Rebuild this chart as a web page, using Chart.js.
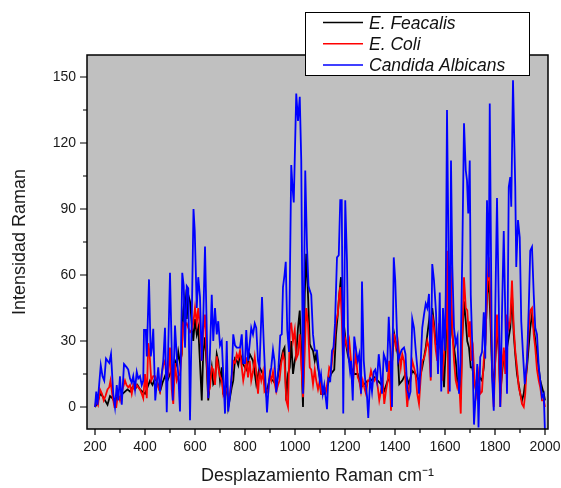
<!DOCTYPE html>
<html>
<head>
<meta charset="utf-8">
<script src="https://cdn.jsdelivr.net/npm/chart.js@4/dist/chart.umd.min.js"></script>
<style>
html,body{margin:0;padding:0;background:#fff;}
#wrap{position:relative;width:561px;height:488px;}
canvas{display:block;}
</style>
</head>
<body>
<div id="wrap"><canvas id="c" width="561" height="488"></canvas></div>
<script>
// ---- Data ----
const seriesNames = ['E. Feacalis', 'E. Coli', 'Candida Albicans'];
const seriesColors = ['#000000', '#ff0000', '#0000ff'];

const feacalisX = [200,210,220,230,240,250,260,270,280,290,
  300,310,320,330,340,350,360,370,380,390,
  400,410,420,430,440,450,460,470,480,490,
  500,510,520,527,533,540,547,553,560,567,
  573,580,587,593,600,607,613,620,627,633,
  640,647,653,660,667,673,680,687,693,700,
  707,713,720,727,733,740,747,753,760,767,
  773,780,787,792,805,819,832,845,858,872,
  885,899,912,925,938,952,958,965,972,979,
  985,992,999,1005,1012,1019,1025,1032,1039,1045,
  1052,1059,1065,1072,1079,1085,1092,1099,1104,1117,
  1131,1144,1157,1164,1171,1177,1184,1190,1197,1204,
  1211,1217,1224,1237,1251,1264,1277,1291,1304,1317,
  1331,1344,1357,1371,1384,1391,1397,1404,1411,1417,
  1429,1442,1456,1469,1482,1496,1509,1523,1536,1543,
  1549,1556,1563,1576,1589,1596,1603,1609,1616,1623,
  1629,1643,1649,1656,1663,1669,1676,1683,1689,1696,
  1703,1709,1722,1735,1748,1755,1761,1768,1775,1781,
  1788,1795,1801,1808,1815,1821,1835,1848,1861,1868,
  1875,1881,1888,1901,1908,1915,1928,1941,1948,1955,
  1968,1981,1995,2000];
const feacalisY = [0,2,6,5,3,1,5,4,2,5,
  4,6,7,8,7,9,8,10,8,7,
  6,9,12,10,13,11,7,11,14,12,
  15,18,21,19,25,20,24,44,50,40,
  51,48,38,30,40,33,36,20,3,25,
  31.7,18,3,12,18,10.4,12,24,21,12,
  18,6,4.4,12,0,4.4,9,12,22,21,
  19,24,22,19.6,17,24,21,10.4,18,15,
  6,13,12,10,18,25.6,27,3,15,18,
  30,15,21,24,36,43.8,25,0,51.4,69.6,
  51,28.6,27,25.6,21,24,18,13.5,6,6,
  10,15,17,33,42,51,59,42,36,28.6,
  24,21,18,15,15,9,10.4,12,12,13.5,
  12,10.4,7.4,12,13.5,25,33,28.6,24,10.4,
  12,15,10.4,16.5,15,12,18,27,39,33,
  45,38,28.6,28.6,24,9,27,62,30,51,
  33,21,12,9,6,32,48,39,30,27,
  18,18,9,14,12,18,28.6,51,57.5,42,
  18,9,21,36,25.6,6,24,27,36,51,
  33,24,15,6,3,6,18,36,42,36,
  24,12,6,3];

const coliX = [200,205,212,220,228,235,242,250,257,262,
  270,278,285,292,300,310,320,326,333,340,
  347,353,360,367,373,380,387,393,400,407,
  413,418,425,433,440,447,453,460,467,473,
  480,487,493,500,507,513,520,527,533,540,
  547,553,560,567,573,580,587,593,600,607,
  613,620,627,633,640,647,653,660,667,673,
  680,687,693,700,707,713,720,727,733,740,
  747,753,760,767,773,780,787,793,800,805,
  812,819,825,832,839,845,852,858,865,872,
  878,885,893,899,905,912,918,925,932,938,
  945,952,958,965,972,980,985,992,999,1005,
  1012,1019,1025,1032,1039,1045,1052,1059,1065,1072,
  1079,1085,1092,1099,1105,1111,1117,1124,1131,1137,
  1144,1151,1157,1164,1171,1177,1181,1187,1192,1197,
  1204,1211,1217,1224,1231,1237,1244,1251,1257,1264,
  1271,1277,1284,1291,1297,1304,1311,1317,1324,1331,
  1337,1344,1351,1357,1364,1371,1377,1384,1391,1397,
  1404,1411,1417,1423,1429,1436,1442,1449,1456,1462,
  1469,1476,1482,1489,1496,1502,1509,1516,1523,1529,
  1536,1543,1549,1556,1563,1569,1576,1583,1589,1596,
  1603,1608,1613,1623,1629,1636,1643,1649,1656,1663,
  1669,1676,1683,1689,1696,1700,1705,1712,1718,1725,
  1733,1741,1748,1755,1761,1768,1775,1781,1788,1795,
  1801,1808,1815,1821,1828,1835,1841,1848,1855,1861,
  1868,1875,1881,1888,1895,1901,1908,1915,1921,1928,
  1935,1941,1948,1955,1961,1968,1975,1981,1988,1995,
  2000];
const coliY = [0,3,1,8,6,3,5,8,9,12,
  5,0,0,6,3,8,12,10,9,10,
  6,10,8,10,9,8,6,4,15,4,
  29,25,12,14,14,12,9,7,15,19,
  21,13,14,27,8,1.4,20,12,14,15,
  25,38,37,38,36,34,35,38,45,38,
  45,36,21,35,42,21,6,9,18,17,
  10,23,18,14,12,6,9,8,4,6,
  14,21,20,24,22,25.6,18,12,16.5,22.6,
  13.5,21,12,16,22.6,16,6,16,12,16,
  7,8,6.7,15,12,16,11,7,10,12,
  20,24,21,3,0,37.8,38,30,35,22,
  24,33,20,4.4,25,45,38,18,17,10.4,
  17,12,8,12,6,6,9,7,12,18,
  16.5,24,29,39,42,51.4,54.5,41,21,33,
  29,26,30,21,10.4,18,24,13.5,12,7,
  12,9,6,12,12,16.5,13.5,12,13.5,9,
  3,7.4,12,1.4,7.4,12,21,-1.7,33,33,
  27,30,24,18,24,21,12,0,9,12,
  21,18,15,6,1.4,12,21,22,25.6,30,
  27,12,42,36,26,21,38,24,12,24,
  36,71,6,63.6,36,21,12,9,13,-3,
  30,59,45,44,31.7,39,21,26,12,6,
  15,6,7,21,28,51.4,68,51,21,0,
  21,42,25,0,18,27,15,42,36,39,
  57.5,36,25.6,18,9,6,1.4,0,6,21,
  36,43.8,45,33,27,17,12,9,3,3,
  0];

const candidaX = [200,205,210,223,230,237,244,250,257,264,
  273,280,287,293,300,307,316,327,333,340,
  347,353,360,367,373,380,387,393,396,403,
  407,416,423,428,433,441,447,453,460,467,
  473,480,487,493,500,507,511,516,520,527,
  533,540,549,555,560,567,573,580,587,594,
  599,607,613,620,627,633,640,647,653,660,
  667,673,680,687,693,700,707,713,720,727,
  733,740,747,753,760,767,773,780,787,793,
  800,805,812,819,825,832,839,845,852,858,
  868,875,881,888,896,905,912,918,925,934,
  941,947,952,958,963,969,976,985,990,995,
  1005,1012,1019,1025,1032,1041,1048,1054,1059,1065,
  1072,1079,1088,1099,1104,1111,1117,1128,1133,1141,
  1148,1154,1160,1168,1175,1181,1187,1193,1201,1208,
  1213,1220,1224,1231,1237,1244,1251,1257,1264,1268,
  1275,1281,1288,1293,1301,1308,1315,1321,1328,1335,
  1341,1348,1355,1361,1368,1375,1381,1388,1395,1401,
  1408,1413,1420,1427,1436,1442,1449,1456,1462,1469,
  1476,1482,1489,1496,1502,1509,1516,1523,1529,1536,
  1543,1549,1556,1564,1568,1572,1579,1585,1592,1599,
  1603,1608,1613,1619,1624,1629,1636,1643,1650,1656,
  1662,1669,1676,1683,1688,1693,1699,1703,1709,1716,
  1723,1729,1734,1741,1748,1755,1761,1768,1775,1779,
  1784,1788,1795,1801,1808,1815,1821,1828,1835,1841,
  1848,1855,1861,1865,1872,1881,1885,1892,1899,1905,
  1912,1919,1928,1935,1941,1948,1955,1961,1968,1975,
  1981,1988,1995,2000];
const candidaY = [0,7,1,19,14,12,22,21,20,24,
  6,0,10,3,14,1,19.5,18,17,13,
  11,14,8,16,13,14,10,12,35,35,
  23,58,23,27,35.5,3,11,18,7,15,
  21,36,-2.4,27,61,25,3,21,37,23,
  15,-2,61,55,27,55,54,-6,40,90,
  80,45,59,50,21,40,73,35,4,25,
  51,30,45,33,39,28,30,15,-3,30,
  -2,5,15,33,28,27,27,27,33,20,
  20,35,21,29,36,33,38,36,21,18,
  50,29,13.5,-2.5,12,18,26,21,6.6,18,
  32.5,33,54.5,60,66,35,25,110,100,93,
  142.5,130,141,112,6,107.5,72.6,55,53,51,
  33,25.6,25.6,12,15,6,10,-1,13,12,
  25.6,27,38,68,69,94,94,-3,94,66,
  24,16.5,21,3,32,26,21,24,6,57,
  21,12,5,-5,13.5,7,16,17,12,24,
  17,6,24,22,16,41,26,0,68,57.5,
  33,21,24,26,27,24,8,4.4,7,40,
  36,27,18,6,18,36,42,47,45,51.4,
  13.5,65,57.5,43,28.6,15,52,7,45,25.6,
  51,135,82,7,112,65,36,28.6,32,6,
  20,68,129,107.6,103,88,112,51,28.6,-8,
  6,19.5,-9.3,22.6,25,43,22,94,59,138,
  69.6,13.5,-1.7,43.8,95,47,0,43,80,43,
  6,100,104.5,91,148.5,100,63.6,85,77,39,
  24,10.4,21,45,71,72.7,51,36,33,18,
  12,4.4,6,-12];

const xTickValues = [200,400,600,800,1000,1200,1400,1600,1800,2000];
const xMinorValues = [300,500,700,900,1100,1300,1500,1700,1900];
const yTickValues = [0,30,60,90,120,150];
const yMinorValues = [15,45,75,105,135];

// ---- Chart ----
const FONT = '"Liberation Sans", Arial, Helvetica, sans-serif';
function zip(xs, ys){ return xs.map((x,i)=>({x:x, y:ys[i]})); }

const decor = {
  id: 'decor',
  beforeDraw(chart){
    const {ctx, chartArea:a} = chart;
    ctx.save();
    ctx.fillStyle = '#ffffff';
    ctx.fillRect(0,0,chart.width,chart.height);
    ctx.fillStyle = '#c0c0c0';
    ctx.fillRect(a.left, a.top, a.right-a.left, a.bottom-a.top);
    ctx.restore();
  },
  afterDraw(chart){
    const {ctx, chartArea:a, scales} = chart;
    ctx.save();
    // frame
    ctx.strokeStyle = '#000';
    ctx.lineWidth = 1.5;
    ctx.strokeRect(a.left, a.top, a.right-a.left, a.bottom-a.top);
    // ticks
    ctx.lineWidth = 1.2;
    ctx.beginPath();
    yTickValues.concat(yMinorValues).forEach(v=>{
      const y = scales.y.getPixelForValue(v);
      const len = yTickValues.includes(v) ? 7 : 4;
      ctx.moveTo(a.left - len, y); ctx.lineTo(a.left, y);
    });
    xTickValues.concat(xMinorValues).forEach(v=>{
      const x = scales.x.getPixelForValue(v);
      const len = xTickValues.includes(v) ? 6 : 4;
      ctx.moveTo(x, a.bottom); ctx.lineTo(x, a.bottom + len);
    });
    ctx.stroke();
    // legend
    const L = {x:305, y:12, w:224, h:63};
    ctx.fillStyle = '#fff';
    ctx.fillRect(L.x, L.y, L.w, L.h);
    ctx.lineWidth = 1;
    ctx.strokeStyle = '#000';
    ctx.strokeRect(L.x+0.5, L.y+0.5, L.w, L.h);
    ctx.font = 'italic 17.5px ' + FONT;
    ctx.textBaseline = 'alphabetic';
    ctx.textAlign = 'left';
    chart.data.datasets.forEach((ds,i)=>{
      const ly = L.y + 10.5 + i*21.3;
      ctx.strokeStyle = ds.borderColor;
      ctx.lineWidth = 1.5;
      ctx.beginPath(); ctx.moveTo(323, ly); ctx.lineTo(363, ly); ctx.stroke();
      ctx.fillStyle = '#111';
      ctx.fillText(ds.label, 369, ly + 6);
    });
    ctx.restore();
  }
};

new Chart(document.getElementById('c'), {
  type: 'line',
  data: {
    datasets: [
      {label: seriesNames[0], data: zip(feacalisX, feacalisY), borderColor: seriesColors[0], order: 3},
      {label: seriesNames[1], data: zip(coliX, coliY), borderColor: seriesColors[1], order: 2},
      {label: seriesNames[2], data: zip(candidaX, candidaY), borderColor: seriesColors[2], order: 1}
    ]
  },
  options: {
    responsive: false,
    animation: false,
    devicePixelRatio: 1,
    layout: {padding: {left: 0, top: 55, right: 13, bottom: 0}},
    elements: {
      point: {radius: 0},
      line: {borderWidth: 1.8, tension: 0, fill: false}
    },
    plugins: {legend: {display: false}, tooltip: {enabled: false}},
    scales: {
      x: {
        type: 'linear', min: 168, max: 2012,
        grid: {display: false, drawTicks: false, drawOnChartArea: false},
        border: {display: false},
        afterFit(s){ s.height = 59; s.paddingLeft = 0; s.paddingRight = 0; },
        afterBuildTicks(s){ s.ticks = xTickValues.map(v => ({value: v})); },
        ticks: {
          autoSkip: false, maxRotation: 0,
          padding: 10, color: '#1a1a1a', font: {family: FONT, size: 14},
          callback: v => String(v)
        },
        title: {display: true, text: 'Desplazamiento Raman cm⁻¹', color: '#1a1a1a',
          font: {family: FONT, size: 18}, padding: {top: 0, bottom: 1}}
      },
      y: {
        type: 'linear', min: -10, max: 160,
        grid: {display: false, drawTicks: false, drawOnChartArea: false},
        border: {display: false},
        afterFit(s){ s.width = 87; s.paddingTop = 0; s.paddingBottom = 0; },
        afterBuildTicks(s){ s.ticks = yTickValues.map(v => ({value: v})); },
        ticks: {
          autoSkip: false,
          padding: 11, color: '#1a1a1a', font: {family: FONT, size: 14},
          callback: v => String(v)
        },
        title: {display: true, text: 'Intensidad Raman', color: '#1a1a1a',
          font: {family: FONT, size: 18}, padding: {top: 9, bottom: 0}}
      }
    }
  },
  plugins: [decor]
});
</script>
</body>
</html>
